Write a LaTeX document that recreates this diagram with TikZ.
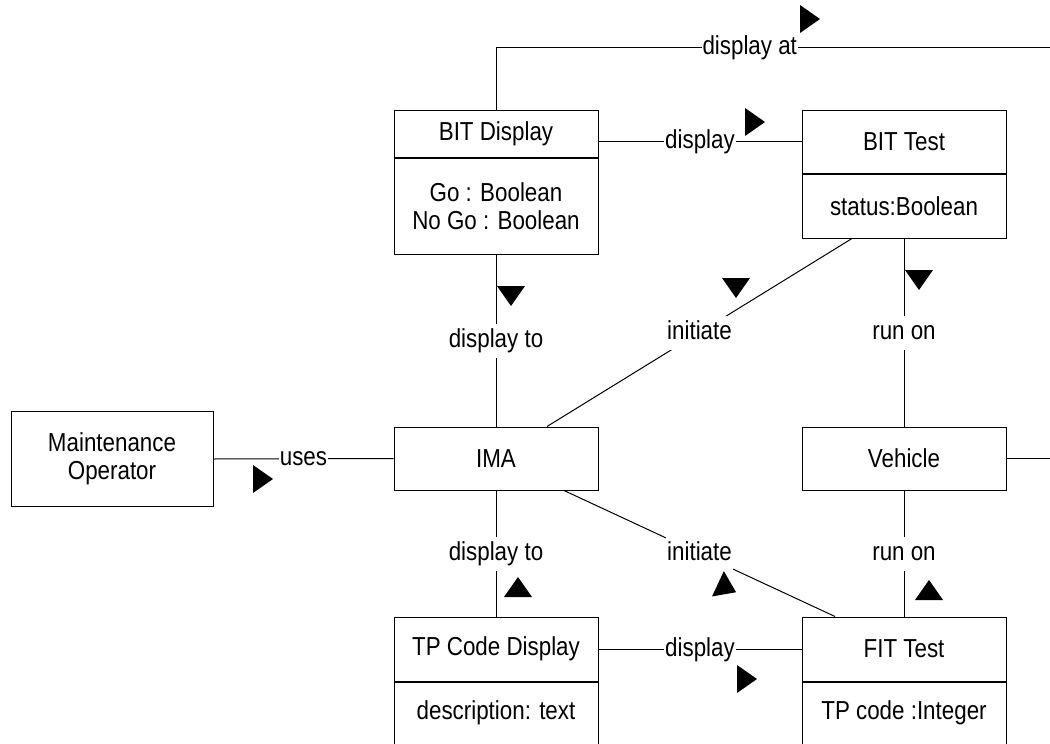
\documentclass[tikz,border=0pt]{standalone}
\usepackage{fontspec}
\setmainfont{Liberation Sans}[FakeStretch=0.86]
\usetikzlibrary{positioning}
\tikzset{
  box/.style={draw, minimum width=204pt, inner sep=0pt, align=center},
  lbl/.style={fill=white, inner xsep=1pt, inner ysep=5pt, text height=19pt, text depth=5pt},
  dirmark/.pic={\fill (-10,-14) -- (10,0) -- (-10,14) -- cycle;}
}
\begin{document}
\begin{tikzpicture}[x=1pt, y=-1pt, line width=1pt, font=\fontsize{26}{28}\selectfont]
\useasboundingbox (0,0) rectangle (1050,744);
% classes
\node[box, minimum width=202pt, minimum height=95pt] (maint) at (112,459) {Maintenance\\Operator};
\node[box, minimum height=47pt] (bitdisp) at (496,133.5) {BIT Display};
\node[box, minimum height=96pt, below=0pt of bitdisp] (bitdispattr) {Go : Boolean\\No Go : Boolean};
\node[box, minimum height=63pt] (bittest) at (904,141.5) {BIT Test};
\node[box, minimum height=64pt, below=0pt of bittest] (bittestattr) {status:Boolean};
\node[box, minimum height=63pt] (ima) at (496,458.5) {IMA};
\node[box, minimum height=63pt] (vehicle) at (904,458.5) {Vehicle};
\node[box, minimum height=64pt] (tpcode) at (496,649) {TP Code Display};
\node[box, minimum height=62pt, below=0pt of tpcode] (tpcodeattr) {description: text};
\node[box, minimum height=64pt] (fittest) at (904,649) {FIT Test};
\node[box, minimum height=62pt, below=0pt of fittest] (fittestattr) {TP code :Integer};
\coordinate (dispatend) at (1050,47);
\coordinate (vehend) at (vehicle.east -| dispatend);
% associations
\draw (bitdisp.north) |- node[lbl, pos=0.729] {display at} (dispatend);
\draw (bitdisp.east |- bittest.west) -- node[lbl] {display} (bittest.west);
\draw (maint.east) -- node[lbl] {uses} (ima.west);
\draw (bitdispattr.south) -- node[lbl] {display to} (ima.north);
\draw ([xshift=-52pt]bittestattr.south) -- node[lbl] {initiate} ([xshift=51pt]ima.north);
\draw (bittestattr.south) -- node[lbl] {run on} (vehicle.north);
\draw (vehicle.east) -- (vehend);
\draw (ima.south) -- node[lbl] {display to} (tpcode.north);
\draw ([xshift=68pt]ima.south) -- node[lbl] {initiate} ([xshift=-69pt]fittest.north);
\draw (vehicle.south) -- node[lbl] {run on} (fittest.north);
\draw (tpcode.east) -- node[lbl] {display} (fittest.west);
% direction marks
\pic at (810,19) {dirmark};
\pic at (755,122) {dirmark};
\pic at (263,479) {dirmark};
\pic[rotate=-90] at (511,296) {dirmark};
\pic[rotate=-90] at (736,288) {dirmark};
\pic[rotate=-90] at (919,280) {dirmark};
\pic[rotate=90] at (518,587) {dirmark};
\pic[rotate=-25] at (727,588) {dirmark};
\pic[rotate=90] at (929,590) {dirmark};
\pic at (747,679) {dirmark};
\end{tikzpicture}
\end{document}
